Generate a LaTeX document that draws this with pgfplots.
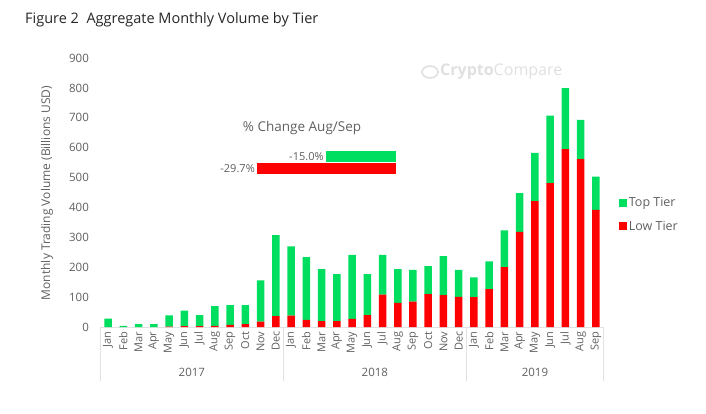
\documentclass[border=0pt]{standalone}
\usepackage{pgfplots}
\pgfplotsset{compat=1.18}
\usepackage{pgfplotstable}
\usepackage{fontspec}
\setmainfont{Open Sans}
\definecolor{topg}{RGB}{0,222,96}
\definecolor{lowr}{RGB}{255,0,0}
\definecolor{txt}{RGB}{96,96,96}
\definecolor{sep}{RGB}{225,225,225}

\pgfplotstableread{
x low top
0 0 28
1 0 4
2 0 10
3 0 10
4 1 38
5 3 52
6 3 37
7 4 66
8 7 66
9 10 63
10 18 138
11 36 271
12 38 232
13 24 210
14 20 174
15 20 157
16 27 214
17 40 137
18 108 133
19 81 113
20 85 106
21 110 94
22 107 130
23 101 90
24 100 66
25 127 93
26 200 123
27 318 130
28 421 162
29 481 226
30 595 204
31 562 131
32 392 111
}\vol

\begin{document}
\begin{tikzpicture}
\useasboundingbox (0pt,0pt) rectangle (706pt,413pt);
% title
\node[anchor=west, font=\fontsize{14.5}{16}\selectfont, text=black!85, inner sep=0pt] at (25pt,393pt) {Figure 2\ \ Aggregate Monthly Volume by Tier};
% y label
\node[rotate=90, font=\fontsize{12}{14}\selectfont, text=txt] at (47pt,220pt) {Monthly Trading Volume (Billions USD)};
% watermark
\node[anchor=west, font=\fontsize{16}{18}\selectfont, text=black!12, inner sep=0pt] at (440pt,341pt) {\textbf{Crypto}Compare};
\draw[black!12, line width=1.6pt] (430pt,341pt) ellipse (8pt and 6pt);

\begin{axis}[
  at={(100.4pt,86pt)}, anchor=south west,
  scale only axis, width=503.2pt, height=269pt,
  xmin=-0.5, xmax=32.5, ymin=0, ymax=900,
  ybar stacked, bar width=7.5pt,
  axis lines*=left,
  y axis line style={draw=none},
  x axis line style={draw=sep, line width=1pt},
  major tick length=0pt,
  ytick={0,100,...,900},
  yticklabel style={font=\fontsize{11.5}{13}\selectfont, text=txt, xshift=-8pt},
  /pgf/number format/assume math mode=true,
  xtick={0,...,32},
  xticklabels={Jan,Feb,Mar,Apr,May,Jun,Jul,Aug,Sep,Oct,Nov,Dec,Jan,Feb,Mar,Apr,May,Jun,Jul,Aug,Sep,Oct,Nov,Dec,Jan,Feb,Mar,Apr,May,Jun,Jul,Aug,Sep},
  xticklabel style={rotate=90, anchor=east, font=\fontsize{11}{13}\selectfont, text=txt, xshift=-1pt},
  clip=false,
  legend style={at={(rel axis cs:1.03,0.418)}, anchor=west, draw=none, fill=none,
    font=\fontsize{12.5}{14}\selectfont, text=txt, row sep=9pt, inner sep=0pt},
  legend cell align=left,
  reverse legend,
  legend image code/.code={\fill[#1] (0pt,-4pt) rectangle (8pt,4pt);},
]
\addplot[fill=lowr, draw=none] table[x=x, y=low] {\vol};
\addlegendentry{Low Tier}
\addplot[fill=topg, draw=none] table[x=x, y=top] {\vol};
\addlegendentry{Top Tier}
\foreach \s in {-0.5,11.5,23.5,32.5} {
  \edef\tmp{\noexpand\draw[sep, line width=1pt] (axis cs:\s,0) -- ++(0pt,-54pt);}
  \tmp
}
\node[font=\fontsize{11.5}{13}\selectfont, text=txt] at ([yshift=-45pt]axis cs:5.5,0) {2017};
\node[font=\fontsize{11.5}{13}\selectfont, text=txt] at ([yshift=-45pt]axis cs:17.5,0) {2018};
\node[font=\fontsize{11.5}{13}\selectfont, text=txt] at ([yshift=-45pt]axis cs:28,0) {2019};
\end{axis}

\begin{axis}[
  at={(257pt,239pt)}, anchor=south west,
  scale only axis, width=139pt, height=23pt,
  xmin=-29.7, xmax=0, ymin=-0.5, ymax=1.5,
  xbar, bar width=11.5pt, bar shift=0pt,
  hide axis, clip=false,
  nodes near coords={\pgfmathprintnumber[fixed,fixed zerofill,precision=1]{\pgfplotspointmeta}\%},
  nodes near coords style={anchor=east, font=\fontsize{11}{13}\selectfont, text=txt, inner sep=2pt},
  /pgf/number format/assume math mode=true,
]
\addplot[fill=lowr, draw=none] coordinates {(-29.7,0)};
\addplot[fill=topg, draw=none] coordinates {(-15.0,1)};
\node[font=\fontsize{13.5}{15}\selectfont, text=txt] at (rel axis cs:0.324,2.0) {\% Change Aug/Sep};
\end{axis}
\end{tikzpicture}
\end{document}
